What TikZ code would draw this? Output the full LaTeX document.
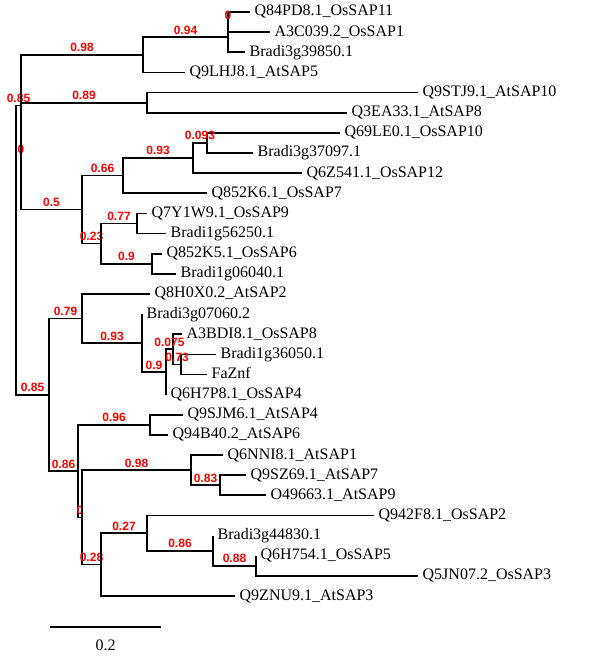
\documentclass[tikz,border=0pt]{standalone}
\usepackage{fontspec}
\setmainfont{Liberation Serif}
\newfontfamily\supfont{Liberation Sans}
\usetikzlibrary{calc}
\definecolor{sapink}{HTML}{000000}
\definecolor{sapred}{HTML}{FF0000}
\tikzset{
  sapbranch/.style={draw=sapink, line width=1.3pt},
  sapleaf/.style={anchor=west, inner xsep=3.3pt, inner ysep=0pt,
                  text height=8.4pt, text depth=2.4pt,
                  font=\fontsize{12}{14}\selectfont},
  sapsupport/.style={anchor=base, inner sep=0pt, text=sapred,
                     font=\supfont\bfseries\fontsize{9}{10}\selectfont},
}

\begin{document}
\begin{tikzpicture}[x=0.75pt,y=-0.75pt]
  \useasboundingbox (0,0) rectangle (600,659);
  % internal nodes of the tree
  \foreach \n/\x/\y in {root/16/250, n085a/21/105.5, n098/143/54.8, n094/228/37.2,
      n0/228/22.05, nz0/21/156.1, n089/147/102.65, n05/82/209.6, n066/123/175.6,
      n093/193/158.0, n0093/207/142.9, n023/101/243.6, n077/137/223.5,
      n09a/152/263.7, n085b/49/394.8, n079/82/318.5, n093b/142/343,
      n09b/166/372, n0075/173/349.3, n073/181/364.4, n086/78/471.1,
      n096/150/424.9, nz0b/82/517.4, n098b/191/470.2, n083/220/485.3,
      n028/101/564.6, n027/147/533.1, n086b/213/550.7, n088/256/565.8}
    {\coordinate (\n) at (\x,\y);}
  % leaves: index / end of branch / parent / name
  \foreach \i/\x/\p/\t in {1/250/n0/Q84PD8.1\_OsSAP11, 2/270/n0/A3C039.2\_OsSAP1,
      3/245/n094/Bradi3g39850.1, 4/185/n098/Q9LHJ8.1\_AtSAP5,
      5/418/n089/Q9STJ9.1\_AtSAP10, 6/347/n089/Q3EA33.1\_AtSAP8,
      7/340/n0093/Q69LE0.1\_OsSAP10, 8/253/n0093/Bradi3g37097.1,
      9/302/n093/Q6Z541.1\_OsSAP12, 10/207/n066/Q852K6.1\_OsSAP7,
      11/147/n077/Q7Y1W9.1\_OsSAP9, 12/166/n077/Bradi1g56250.1,
      13/162/n09a/Q852K5.1\_OsSAP6, 14/176/n09a/Bradi1g06040.1,
      15/150/n079/Q8H0X0.2\_AtSAP2, 16/142/n093b/Bradi3g07060.2,
      17/182/n0075/A3BDI8.1\_OsSAP8, 18/216/n073/Bradi1g36050.1,
      19/207/n073/FaZnf, 20/166/n09b/Q6H7P8.1\_OsSAP4,
      21/183/n096/Q9SJM6.1\_AtSAP4, 22/168/n096/Q94B40.2\_AtSAP6,
      23/223/n098b/Q6NNI8.1\_AtSAP1, 24/246/n083/Q9SZ69.1\_AtSAP7,
      25/266/n083/O49663.1\_AtSAP9, 26/374/n027/Q942F8.1\_OsSAP2,
      27/213/n086b/Bradi3g44830.1, 28/256/n088/Q6H754.1\_OsSAP5,
      29/418/n088/Q5JN07.2\_OsSAP3, 30/235/n028/Q9ZNU9.1\_AtSAP3}
    {\node[sapleaf] (l\i) at (\x,{12+(\i-1)*20.14}) {\t};
     \draw[sapbranch] (\p) |- (l\i.west);}
  % inner branches with their support values
  \foreach \p/\c/\t in {root/n085a/0.85, n085a/n098/0.98, n098/n094/0.94,
      n094/n0/0, n085a/nz0/0, nz0/n089/0.89, nz0/n05/0.5, n05/n066/0.66,
      n066/n093/0.93, n093/n0093/0.093, n05/n023/0.23, n023/n077/0.77,
      n023/n09a/0.9, root/n085b/0.85, n085b/n079/0.79, n079/n093b/0.93,
      n093b/n09b/0.9, n09b/n0075/0.075, n0075/n073/0.73, n085b/n086/0.86,
      n086/n096/0.96, n086/nz0b/0, nz0b/n098b/0.98, n098b/n083/0.83,
      nz0b/n028/0.28, n028/n027/0.27, n027/n086b/0.86, n086b/n088/0.88}
    {\draw[sapbranch] (\p) |- (\c);
     \node[sapsupport] (s-\c) at ($(\p |- \c)!0.5!(\c)+(0,-3)$) {\t};}
  % scale bar
  \coordinate (bar0) at (50,627);
  \coordinate (bar1) at (161,627);
  \draw[sapbranch] (bar0) -- (bar1);
  \node[anchor=base, inner sep=0pt, font=\fontsize{12}{14}\selectfont] (barlab)
    at ($(bar0)!0.5!(bar1)+(0,23)$) {0.2};
\end{tikzpicture}
\end{document}
